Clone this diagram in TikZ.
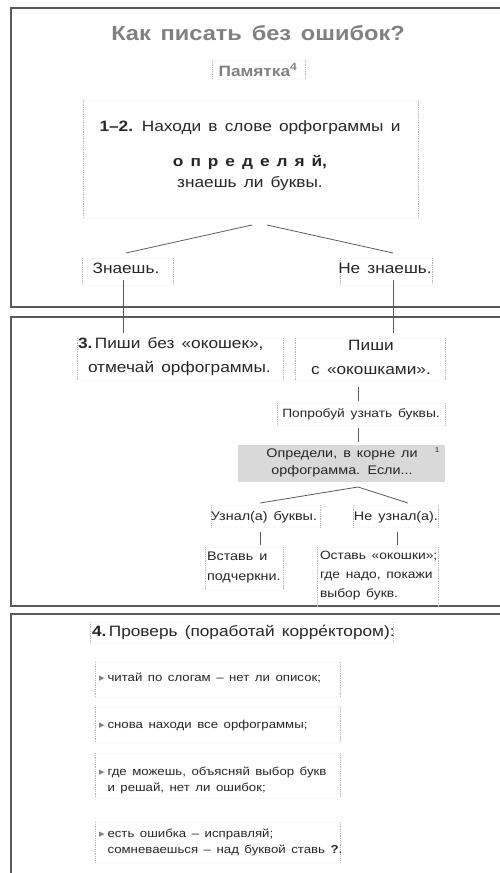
\documentclass[tikz,border=0pt]{standalone}
\usepackage{fontspec}
\setmainfont{Liberation Sans}[FakeStretch=1.15,WordSpace=1.5]
\newfontfamily\symf{DejaVu Sans}
\usetikzlibrary{calc}
\definecolor{ink}{HTML}{262626}
\definecolor{ttl}{HTML}{808080}
\definecolor{frm}{HTML}{5A5A5A}
\definecolor{fillg}{HTML}{D9D9D9}
\newcommand\fz[2]{\fontsize{#1}{#2}\selectfont}
\newcommand\sides[1]{%
  \draw[faintbox] (#1.north west) rectangle (#1.south east);
  \draw[side] (#1.north west) -- (#1.south west) (#1.north east) -- (#1.south east);}
\newcommand\mk{{\symf\color{gray}\fontsize{11}{11}\selectfont ▸}}
\begin{document}
\begin{tikzpicture}[x=1pt,y=-1pt,
  panel/.style={draw=frm,line width=2pt},
  boxn/.style={inner sep=0,outer sep=0,draw=none},
  side/.style={draw=gray!55,densely dotted,line width=0.8pt},
  faintbox/.style={draw=gray!8,densely dotted,line width=0.6pt},
  txt/.style={inner sep=0,outer sep=0,text=ink},
  conn/.style={draw=gray!70!black,line width=0.8pt}]
\useasboundingbox (0,0) rectangle (500,873);
% panels
\draw[panel] (11,8) rectangle (530,307);
\draw[panel] (11,317) rectangle (530,606);
\draw[panel] (11,614) rectangle (530,900);
% ---- panel 1
\node[txt,text=ttl,font=\fz{20.5}{24}\bfseries] (title) at (258,33) {Как писать без ошибок?};
\node[boxn,minimum width=93,minimum height=19] (bpam) at (258.5,69.5) {};
\sides{bpam}
\node[txt,text=ttl,font=\fz{15}{18}\bfseries] (tpam) at (258,70) {Памятка\textsuperscript{4}};
\node[boxn,minimum width=335,minimum height=118] (b12) at (250.5,159) {};
\sides{b12}
\node[txt,align=center,font=\fz{15}{21}] (t12) at (250,156)
  {\textbf{1–2.} Находи в слове орфограммы и\\[14pt]
   \textbf{о\hspace{7pt}п\hspace{7pt}р\hspace{7pt}е\hspace{7pt}д\hspace{7pt}е\hspace{7pt}л\hspace{7pt}я\hspace{7pt}й,}\\
   знаешь ли буквы.};
\node[boxn,minimum width=91,minimum height=27] (bkn) at (127.5,271.5) {};
\sides{bkn}
\node[txt,font=\fz{15}{18}] (tkn) at (126,268) {Знаешь.};
\node[boxn,minimum width=92,minimum height=27] (bnk) at (386,271.5) {};
\sides{bnk}
\node[txt,font=\fz{15}{18}] (tnk) at (385,268) {Не знаешь.};
\draw[conn] ($(b12.south)+(1.5,7)$) -- ($(bkn.north)+(-1.5,-5)$);
\draw[conn] ($(b12.south)+(16.5,7)$) -- ($(bnk.north)+(7,-5)$);
% ---- panel 2
\node[boxn,minimum width=206,minimum height=42] (b3) at (180,359) {};
\sides{b3}
\node[txt,anchor=west,align=left,font=\fz{15}{24}] (t3) at (78,357)
  {\textbf{3.}\,Пиши без «окошек»,\\\hspace*{10pt}отмечай орфограммы.};
\node[boxn,minimum width=150,minimum height=42] (bpw) at (370,359) {};
\sides{bpw}
\node[txt,align=center,font=\fz{15}{24}] (tpw) at (371,357) {Пиши\\с «окошками».};
\coordinate (k1) at ($(bkn.south)+(-4.5,-5)$);
\coordinate (k2) at ($(b3.north)+(0,-5)$);
\draw[conn] (k1) -- (k1 |- k2);
\coordinate (k3) at ($(bnk.south)+(7,-5)$);
\coordinate (k4) at ($(bpw.north)+(0,-5)$);
\draw[conn] (k3) -- (k3 |- k4);
\node[boxn,minimum width=168,minimum height=22] (bpr) at (361,414) {};
\sides{bpr}
\node[txt,font=\fz{12}{16}] (tpr) at (361,414) {Попробуй узнать буквы.};
\coordinate (c1) at ($(bpw.south)+(-12,7)$);
\draw[conn] (c1) -- ($(c1 |- bpr.north)+(0,-2)$);
\node[boxn,fill=fillg,minimum width=207,minimum height=37] (bgr) at (341.5,463.5) {};
\node[txt,align=center,font=\fz{12.5}{17}] (tgr) at (342,463) {Определи, в корне ли\\орфограмма. Если...};
\node[txt,font=\fz{7}{8}] (fn1) at (437,450) {1};
\coordinate (c2) at ($(bpr.south)+(-3,3)$);
\draw[conn] (c2) -- ($(c2 |- bgr.north)+(0,-3)$);
\node[boxn,minimum width=109,minimum height=22] (buz) at (265.5,516) {};
\sides{buz}
\node[txt,font=\fz{12.5}{16}] (tuz) at (264,517) {Узнал(а) буквы.};
\node[boxn,minimum width=85,minimum height=22] (bnu) at (395.5,516) {};
\sides{bnu}
\node[txt,font=\fz{12.5}{16}] (tnu) at (396,517) {Не узнал(а).};
\coordinate (s0) at ($(bgr.south)+(16.5,5)$);
\draw[conn] (s0) -- ($(buz.north)+(-5.5,-2)$);
\draw[conn] (s0) -- ($(bnu.north)+(12.5,-2)$);
\node[boxn,minimum width=78,minimum height=43] (bvs) at (244,568.5) {};
\sides{bvs}
\node[txt,anchor=west,align=left,font=\fz{12.5}{20}] (tvs) at (207,567) {Вставь и\\подчеркни.};
\node[boxn,minimum width=121,minimum height=60] (bos) at (377.5,577) {};
\sides{bos}
\node[txt,anchor=west,align=left,font=\fz{12}{19}] (tos) at (320,576) {Оставь «окошки»;\\где надо, покажи\\выбор букв.};
\coordinate (u1) at ($(buz.south)+(-5.5,5)$);
\draw[conn] (u1) -- ($(u1 |- bvs.north)+(0,-2)$);
\coordinate (u2) at ($(bnu.south)+(1.5,5)$);
\draw[conn] (u2) -- ($(u2 |- bos.north)+(0,-2)$);
% ---- panel 3
\node[boxn,minimum width=303,minimum height=21] (b4) at (241.5,632.5) {};
\sides{b4}
\node[txt,anchor=west,font=\fz{15}{18}] (t4) at (92,632) {\textbf{4.}\,Проверь (поработай корре́ктором):};
\node[boxn,minimum width=245,minimum height=35] (bi1) at (217.5,679.5) {};
\sides{bi1}
\node[txt,anchor=west,font=\fz{11.5}{16}] (ti1) at (99,678)
  {\begin{tabular}{@{}l@{\hspace{3pt}}l@{}}\mk & читай по слогам – нет ли описок;\end{tabular}};
\node[boxn,minimum width=245,minimum height=36] (bi2) at (217.5,725) {};
\sides{bi2}
\node[txt,anchor=west,font=\fz{11.5}{16}] (ti2) at (99,725)
  {\begin{tabular}{@{}l@{\hspace{3pt}}l@{}}\mk & снова находи все орфограммы;\end{tabular}};
\node[boxn,minimum width=245,minimum height=45] (bi3) at (217.5,775.5) {};
\sides{bi3}
\node[txt,anchor=west,font=\fz{11.5}{16}] (ti3) at (99,780)
  {\begin{tabular}{@{}l@{\hspace{3pt}}l@{}}\mk & где можешь, объясняй выбор букв\\ & и решай, нет ли ошибок;\end{tabular}};
\node[boxn,minimum width=245,minimum height=41] (bi4) at (217.5,842.5) {};
\sides{bi4}
\node[txt,anchor=west,font=\fz{11.5}{15.5}] (ti4) at (99,842.5)
  {\begin{tabular}{@{}l@{\hspace{3pt}}l@{}}\mk & есть ошибка – исправляй;\\ & сомневаешься – над буквой ставь \textbf{?}.\end{tabular}};
\end{tikzpicture}
\end{document}
